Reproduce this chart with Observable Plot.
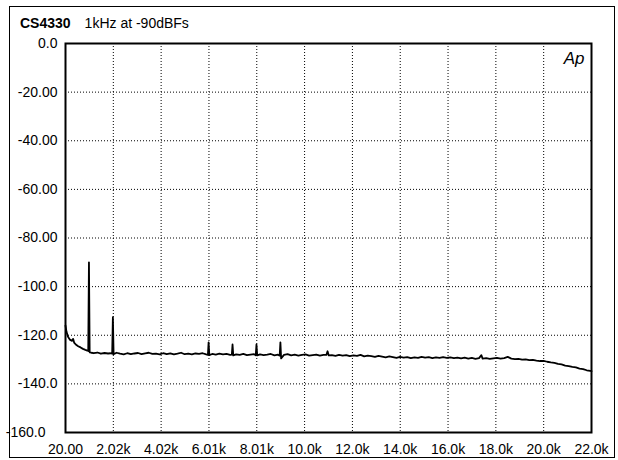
<!DOCTYPE html>
<html>
<head>
<meta charset="utf-8">
<script src="https://cdn.jsdelivr.net/npm/d3@7"></script>
<script src="https://cdn.jsdelivr.net/npm/@observablehq/plot@0.6"></script>
<style>
  html, body { margin: 0; padding: 0; background: #fff; }
  #wrap { position: relative; width: 618px; height: 460px; overflow: hidden; font-family: "Liberation Sans", Arial, sans-serif; }
  #border { position: absolute; left: 9px; top: 6px; width: 606px; height: 452px; border: 1.5px solid #000; box-sizing: border-box; pointer-events: none; }
  #title { position: absolute; left: 20px; top: 15px; font-size: 14px; line-height: 16px; color: #000; white-space: nowrap; }
  #title b { margin-right: 14px; }
  #chart { position: absolute; left: 0; top: 0; }
</style>
</head>
<body>
<div id="wrap">
  <div id="chart"></div>
  <div id="border"></div>
  <div id="title"><b>CS4330</b>1kHz at -90dBFs</div>
</div>
<script>
// Frequency (Hz) of each trace point
const freqHz = [
  20, 60, 120, 200, 280, 340, 380, 450, 550, 650, 750, 850, 930,
  970, 1000, 1030, 1100, 1200, 1350, 1500, 1650, 1800, 1900,
  1970, 2000, 2030, 2150, 2300, 2450, 2600, 2750, 2900, 3050, 3200, 3350, 3500, 3650, 3800, 3950,
  4100, 4250, 4400, 4550, 4700, 4850, 5000, 5150, 5300, 5450, 5600, 5750, 5900,
  5970, 6000, 6030, 6150, 6300, 6450, 6600, 6750, 6900,
  6970, 7000, 7030, 7150, 7300, 7450, 7600, 7750, 7900,
  7970, 8000, 8030, 8150, 8300, 8450, 8600, 8750, 8900,
  8970, 9000, 9030, 9150, 9300, 9450, 9600, 9750, 9900, 10050, 10200, 10350, 10500, 10650, 10800,
  10920, 10970, 11020, 11150, 11300, 11450, 11600, 11750, 11900, 12050, 12200, 12350, 12500, 12650, 12800, 12950,
  13100, 13250, 13400, 13550, 13700, 13850, 14000, 14150, 14300, 14450, 14600, 14750, 14900, 15050, 15200, 15350,
  15500, 15650, 15800, 15950, 16100, 16250, 16400, 16550, 16700, 16850, 17000, 17150, 17300, 17400, 17450, 17600,
  17750, 17900, 18050, 18200, 18350, 18500, 18650, 18800, 18950, 19100, 19250, 19400, 19550, 19700, 19850, 20000,
  20150, 20300, 20450, 20600, 20750, 20900, 21050, 21200, 21350, 21500, 21650, 21800, 21950, 22000
];
// Level (dBFS) at each frequency
const levelDb = [
  -116, -118.5, -120.5, -121.8, -122.3, -121.5, -123, -123.8, -124.5, -125, -125.6, -126, -126.3,
  -126.5, -90, -127, -127.2, -127.4, -127.1, -127.6, -127.3, -127.5, -127.4,
  -127.6, -112.6, -127.8, -127.2, -127.6, -127.9, -127.4, -127.8, -127.5, -127.3, -127.8, -127.5, -127.2, -127.7, -127.6, -127.9,
  -127.4, -127.8, -127.5, -127.9, -127.6, -127.2, -127.8, -127.6, -127.9, -127.5, -127.7, -127.4, -127.9,
  -128.1, -122.9, -128.2, -127.7, -128.0, -127.6, -127.9, -127.7, -128.1,
  -128.0, -123.8, -128.3, -127.9, -128.1, -127.7, -128.2, -128.0, -127.8,
  -128.2, -123.8, -128.3, -127.9, -128.2, -128.0, -127.7, -128.3, -128.0,
  -128.4, -122.9, -129.5, -128.1, -127.8, -128.3, -128.0, -128.4, -128.1, -127.9, -128.4, -128.2, -128.0, -128.4, -128.1,
  -128.1, -126.6, -128.3, -128.2, -128.5, -128.1, -128.4, -128.2, -128.6, -128.3, -128.5, -128.1, -128.7, -128.4, -128.6, -128.9,
  -128.5, -128.8, -129.1, -128.7, -129.0, -129.3, -128.9, -129.2, -129.0, -129.4, -129.1, -129.3, -128.9, -129.2, -129.0, -129.4,
  -129.1, -129.3, -129.0, -129.3, -129.1, -129.4, -129.2, -129.5, -129.2, -129.6, -129.3, -129.7, -129.4, -128.2, -129.6, -129.4,
  -129.7, -129.5, -129.3, -129.6, -129.4, -128.9, -129.6, -129.8, -129.7, -130.0, -129.9, -130.2, -130.1, -130.4, -130.6, -130.5,
  -130.9, -131.2, -131.4, -131.8, -132.0, -132.5, -132.7, -133.0, -133.2, -133.7, -133.9, -134.4, -134.7, -134.8
];

// Axis ticks and their printed labels
const xTickValues = [20, 2018, 4016, 6015, 8013, 10011, 12009, 14007, 16005, 18004, 20002, 22000];
const xTickLabels = ["20.00", "2.02k", "4.02k", "6.01k", "8.01k", "10.0k", "12.0k", "14.0k", "16.0k", "18.0k", "20.0k", "22.0k"];
const yTickValues = [0, -20, -40, -60, -80, -100, -120, -140, -160];
const yTickLabels = ["0.0", "-20.00", "-40.00", "-60.00", "-80.00", "-100.0", "-120.0", "-140.0", "-160.0"];
const logoText = ["Ap"];

const data = freqHz.map((f, i) => ({f, db: levelDb[i]}));
const xLab = new Map(xTickValues.map((v, i) => [v, xTickLabels[i]]));
const yLab = new Map(yTickValues.map((v, i) => [v, yTickLabels[i]]));

const gridStyle = {stroke: "#000", strokeOpacity: 1, strokeWidth: 1, strokeDasharray: "1,2"};

const chart = Plot.plot({
  width: 618,
  height: 460,
  marginLeft: 65,
  marginRight: 27,
  marginTop: 43,
  marginBottom: 28,
  style: {fontFamily: "'Liberation Sans', Arial, sans-serif", fontSize: "14px", color: "#000", background: "transparent", overflow: "visible"},
  x: {type: "linear", domain: [20, 22000], label: null},
  y: {domain: [-160, 0], label: null},
  marks: [
    Plot.gridX(xTickValues, gridStyle),
    Plot.gridY(yTickValues, gridStyle),
    Plot.line(data, {x: "f", y: "db", stroke: "#000", strokeWidth: 1.8, strokeLinejoin: "round"}),
    Plot.frame({stroke: "#000", strokeWidth: 2}),
    Plot.axisX(xTickValues, {tickSize: 0, tickPadding: 12, tickFormat: d => xLab.get(d), fontSize: 14, label: null}),
    Plot.axisY(yTickValues.slice(0, -1), {tickSize: 0, tickPadding: 8, tickFormat: d => yLab.get(d), fontSize: 14, label: null}),
    Plot.axisY(yTickValues.slice(-1), {tickSize: 0, tickPadding: 20, tickFormat: d => yLab.get(d), fontSize: 14, label: null}),
    Plot.text(logoText, {frameAnchor: "top-right", dx: -7, dy: 8, fontStyle: "italic", fontSize: 17, fill: "#000"})
  ]
});
document.getElementById("chart").appendChild(chart);
</script>
</body>
</html>
